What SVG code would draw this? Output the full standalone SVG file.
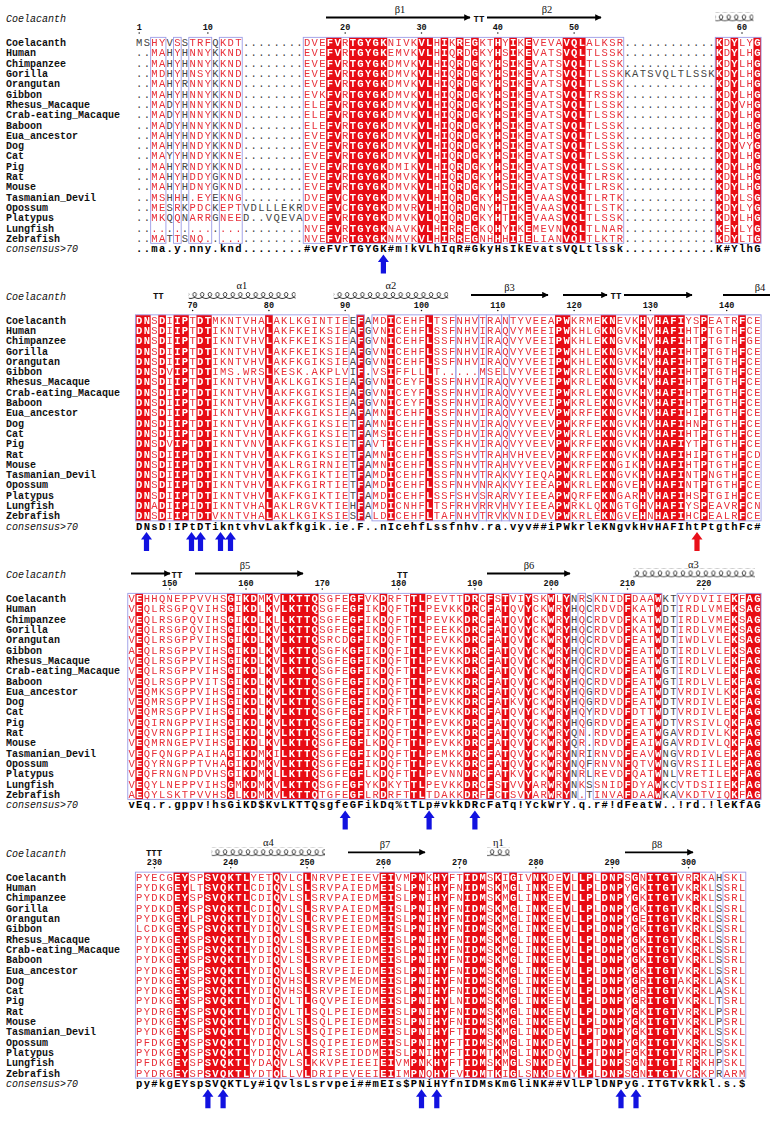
<svg xmlns="http://www.w3.org/2000/svg" width="778" height="1121" viewBox="0 0 778 1121">
<style>
.q{font-family:"Liberation Mono","DejaVu Sans Mono",monospace;font-size:10.5px;letter-spacing:1.33px}
.cs{font-family:"Liberation Mono","DejaVu Sans Mono",monospace;font-size:10.5px;letter-spacing:1.33px;font-weight:bold;fill:#000}
.nm{font-family:"Liberation Mono","DejaVu Sans Mono",monospace;font-size:10px;font-weight:bold;fill:#111}
.it{font-family:"Liberation Mono","DejaVu Sans Mono",monospace;font-size:10px;font-style:italic;fill:#111}
.num{font-family:"Liberation Mono","DejaVu Sans Mono",monospace;font-size:8.5px;font-weight:bold;text-anchor:middle;fill:#111}
.tt{font-family:"Liberation Mono","DejaVu Sans Mono",monospace;font-size:9px;font-weight:bold;text-anchor:middle;fill:#111}
.ss{font-family:"Liberation Serif","DejaVu Serif",serif;font-size:10.5px;text-anchor:middle;fill:#111}
.st{stroke:#000;stroke-width:1.8;fill:none}
.hl{fill:url(#hx)}
.ba{fill:#1212e0}
.ra{fill:#e8101a}
.dt{fill:#111}
</style>
<defs>
<marker id="ah" viewBox="0 0 10 10" refX="9" refY="5" markerWidth="4.5" markerHeight="3.6" orient="auto" markerUnits="strokeWidth"><path d="M0,0L10,5L0,10z" fill="#000"/></marker>
<pattern id="hx" patternUnits="userSpaceOnUse" x="0" y="-30" width="7.63" height="9"><path d="M0,8.5C2,8.5 5.6,7 5.6,4.6C5.6,1.8 2.1,1.8 2.1,4.6C2.1,7 5.6,8.5 7.63,8.5" fill="none" stroke="#000" stroke-width="0.8"/></pattern>
<path id="up" d="M0,0L5.5,7.5L2.6,7.5L2.6,19L-2.6,19L-2.6,7.5L-5.5,7.5Z"/>
<g id="names">
<text class="it" x="6" y="-20.5">Coelacanth</text>
<text class="nm" x="6" y="3.6">Coelacanth</text>
<text class="nm" x="6" y="13.9">Human</text>
<text class="nm" x="6" y="24.2">Chimpanzee</text>
<text class="nm" x="6" y="34.5">Gorilla</text>
<text class="nm" x="6" y="44.8">Orangutan</text>
<text class="nm" x="6" y="55.1">Gibbon</text>
<text class="nm" x="6" y="65.4">Rhesus_Macaque</text>
<text class="nm" x="6" y="75.7">Crab-eating_Macaque</text>
<text class="nm" x="6" y="86">Baboon</text>
<text class="nm" x="6" y="96.3">Eua_ancestor</text>
<text class="nm" x="6" y="106.6">Dog</text>
<text class="nm" x="6" y="116.9">Cat</text>
<text class="nm" x="6" y="127.2">Pig</text>
<text class="nm" x="6" y="137.5">Rat</text>
<text class="nm" x="6" y="147.8">Mouse</text>
<text class="nm" x="6" y="158.1">Tasmanian_Devil</text>
<text class="nm" x="6" y="168.4">Opossum</text>
<text class="nm" x="6" y="178.7">Platypus</text>
<text class="nm" x="6" y="189">Lungfish</text>
<text class="nm" x="6" y="199.3">Zebrafish</text>
<text class="it" x="6" y="209.6">consensus&gt;70</text>
</g>

<g id="t1" class="q">
<text x="136.05" y="3.6">MSHYVSSTRFQKDT........DVEFVRTGYGKNIVKVLHIKREGKTHYIKEVEVAVQLALKSR............KDYLYG</text>
<text x="136.05" y="13.9">..MAHYHNNYKKND........EVEFVRTGYGKEMVKVLHIQRDGKYHSIKEVATSVQLTLSSK............KDYLHG</text>
<text x="136.05" y="24.2">..MAHYHNNYKKND........EVEFVRTGYGKDMVKVLHIQRDGKYHSIKEVATSVQLTLSSK............KDYLHG</text>
<text x="136.05" y="34.5">..MDHYHNSYKKND........EVEFVRTGYGKDMVKVLHIQRDGKYHSIKEVATSVQLTLSSKKATSVQLTLSSKKDYLHG</text>
<text x="136.05" y="44.8">..MAHYRNNYKKND........EVEFVRTGYGKDMVKVLHIQRDGKYHSIKEVATSVQLTLSSK............KDYLHG</text>
<text x="136.05" y="55.1">..MAHYHNNYKKND........EVKFVRTGYGKDMVKVLHIQRDGKYHSIKEVATSVQLTRSSK............KDYLHG</text>
<text x="136.05" y="65.4">..MADYHNNYKKND........ELEFVRTGYGKDMVKVLHIQRDGKYHSIKEVATSVQLTLSSK............KDYVHG</text>
<text x="136.05" y="75.7">..MADYHNNYKKND........ELEFVRTGYGKDMVKVLHIQRDGKYHSIKEVATSVQLTLSSK............KDYLHG</text>
<text x="136.05" y="86">..MADYHNNYKKND........ELEFVRTGYGKDMVKVLHIQRDGKYHSIKEVATSVQLTLSSK............KDYLHG</text>
<text x="136.05" y="96.3">..MAHYHNDYKKND........EVEFVRTGYGKDMVKVLHIQRDGKYHSIKEVATSVQLTLSSK............KDYLHG</text>
<text x="136.05" y="106.6">..MAHYHNDYKKND........EVEFVRTGYGKDMVKVLHIQRDGKYHSIKEVATSVQLTLSSK............KDYVYG</text>
<text x="136.05" y="116.9">..MAYYHNDYKKNE........EVEFVRTGYGKDMVKVLHIQRDGKYHSIKEVATSVQLTLSSK............KDYLHG</text>
<text x="136.05" y="127.2">..MAHYRNDYKKND........EVEFVRTGYGKDMIKVLHIQRDGKYHSIKEVATSVQLTLSSK............KDYLHG</text>
<text x="136.05" y="137.5">..MAHYHDDYGKND........EVEFVRTGYGKDMVKVLHIQRDGKYHSIKEVATSVQLTLRSK............KDYLHG</text>
<text x="136.05" y="147.8">..MAHYHDNYGKND........EVEFVRTGYGKDMVKVLHIQRDGKYHSIKEVATSVQLTLRSK............KDYLHG</text>
<text x="136.05" y="158.1">..MSHHH.EYEKNG........DVEFVCTGYGKDMVKVLHIQRDGKYHSIKEVAASVQLTLRTK............KDYLSG</text>
<text x="136.05" y="168.4">..MESRKPDCKEPTVDLLLEKRDVEFVCTGYGKDMVRVLHIQRDGNYHTIKEVAASVQLTLSTK............KDYLYG</text>
<text x="136.05" y="178.7">..MKQQNARRGNEED..VQEVADVEFVRTGYGKDMVKVLQIQRDGKYHTIKEVAASVQLTLSSK............KDYLHG</text>
<text x="136.05" y="189">......................NVEFVRTGYGKNAVKVLHIRREGKQHYIKEMEVNVQLTLNAR............KEYLYG</text>
<text x="136.05" y="199.3">..MATTSNQ.............NVEFVRTGYGKNMVKVLHIRREGNHHHIIELIANVQLTLKTR............KDYLTG</text>
</g>
<g id="s1">
<rect x="326.15" y="-5.15" width="15.26" height="206"/><rect x="349.04" y="-5.15" width="38.15" height="206"/><rect x="417.71" y="-5.15" width="15.26" height="206"/><rect x="440.6" y="-5.15" width="7.63" height="206"/><rect x="455.86" y="-5.15" width="7.63" height="206"/><rect x="471.12" y="-5.15" width="7.63" height="206"/><rect x="494.01" y="-5.15" width="7.63" height="206"/><rect x="509.27" y="-5.15" width="7.63" height="206"/><rect x="524.53" y="-5.15" width="7.63" height="206"/><rect x="562.68" y="-5.15" width="22.89" height="206"/><rect x="715.28" y="-5.15" width="7.63" height="206"/><rect x="730.54" y="-5.15" width="7.63" height="206"/><rect x="753.43" y="-5.15" width="7.63" height="206"/>
</g>
<g id="f1">
<rect x="150.66" y="-5.15" width="15.26" height="206"/><rect x="173.55" y="-5.15" width="7.63" height="206"/><rect x="188.81" y="-5.15" width="22.89" height="206"/><rect x="219.33" y="-5.15" width="22.89" height="206"/><rect x="303.26" y="-5.15" width="320.46" height="206"/><rect x="715.28" y="-5.15" width="45.78" height="206"/>
</g>
<mask id="m1s" maskUnits="userSpaceOnUse" x="0" y="-20" width="800" height="240"><use href="#s1" fill="#fff"/></mask>
<mask id="m1f" maskUnits="userSpaceOnUse" x="0" y="-20" width="800" height="240"><use href="#f1" fill="#fff"/></mask>

<g id="t2" class="q">
<text x="136.05" y="3.6">DNSDIIPTDTMKNTVHALAKLKGINTIEEFAMDICEHFLTSFNHVTRANTYVEEAPWKRMEKNEVKHVHAFIYSPEATRFCE</text>
<text x="136.05" y="13.9">DNSDIIPTDTIKNTVHVLAKFKEIKSIEAFGVNICEHFLSSFNHVIRAQVYMEEIPWKHLGKNGVKHVHAFIHTPTGTHFCE</text>
<text x="136.05" y="24.2">DNSDIIPTDTIKNTVHVLAKFKEIKSIEAFGVNICEHFLSSFNHVIRAQVYVEEIPWKHLEKNGVKHVHAFIHTPTGTHFGE</text>
<text x="136.05" y="34.5">DNSDIIPTDTIKNTVHVLAKFKEIKSIEAFGVNICEHFLSSFNHVIRAQVYVEEIPWKHLEKNGVKHVHAFIHTPTGTHFCE</text>
<text x="136.05" y="44.8">DNSDIIPTDTIKNTVHVLAKFKGIKSIEAFGVNICEHFLSSFNHVIRAQVYVEEIPWKHLEKNGVKHVHAFIHTPTGTHFCE</text>
<text x="136.05" y="55.1">DNSDVIPTDTIMS.WRSLKESK.AKPLVIF.VSIFFLLLT.....MSELVYVEEIPWKRLEKNGVKHVHAFIHTPTGTHFCE</text>
<text x="136.05" y="65.4">DNSDIIPTDTIKNTVHVLAKLKGIKSIEAFGVNICEYFLSSFNHVIRAQVYVEEIPWKRLEKNGVKHVHAFIHTPTGTHFCE</text>
<text x="136.05" y="75.7">DNSDIIPTDTIKNTVHVLAKFKGIKSIEAFGVNICEYFLSSFNHVIRAQVYVEEIPWKRLEKNGVKHVHAFIHTPTGTHFCE</text>
<text x="136.05" y="86">DNSDIIPTDTIKNTVHVLAKFKGIKSIEAFGVNICEYFLSSFNHVIRAQVYVEEIPWKRLEKNGVKHVHAFIHTPTGTHFCE</text>
<text x="136.05" y="96.3">DNSDIIPTDTIKNTVHVLAKFKGIKSIEAFAMNICEHFLSSFNHVIRAQVYVEEVPWKRFEKNGVKHVHAFIHIPTGTHFCE</text>
<text x="136.05" y="106.6">DNSDIIPTDTIKNTVHVLAKFKGIKSIETFAMNICEHFLSSFNHVIRAQVYVEEVPWKRFEKNGVKHVHAFIHNPTGTHFCE</text>
<text x="136.05" y="116.9">DNSDIIPTDTIKNTVHVLAKFKGIKSIETFAMSICEHFLSSFDHVIRAQVYVEEVPWKRLEKNGVKHVHAFIHTPTGTHFCE</text>
<text x="136.05" y="127.2">DNSDVIPTDTIKNTVNVLAKFKGIKSIETFAVTICEHFLSSFKHVIRAQVYVEEVPWKRFEKNGVKHVHAFIYTPTGTHFCE</text>
<text x="136.05" y="137.5">DNSDIIPTDTIKNTVHVLAKFKGIKSIETFAMNICEHFLSSFSHVTRAHVHVEEVPWKRFEKNGVKHVHAFIHIPTGTHFCD</text>
<text x="136.05" y="147.8">DNSDIIPTDTIKNTVHVLAKLRGIRNIETFAMNICEHFLSSFNHVTRAHVYVEEVPWKRFEKNGIKHVHAFIHTPTGTHFCE</text>
<text x="136.05" y="158.1">DNSDIIPTDTIKNTVHVLAKFKGIKTIETFAMDICEHFLSSFNHVTRAKVYIEQAPWKRLEKNGVKHVHAFINTPNGTHFCE</text>
<text x="136.05" y="168.4">DNSDIIPTDTIKNTVHVLAKFKGIRTIETFAMDICEHFLSSFNHVNRAKVYIEEAPWKRLEKNGVEHVHAFINTPTGTHFCE</text>
<text x="136.05" y="178.7">DNSDIIPTDTIKNTVHVLAKFKGIKTIETFAMDICEHFLSSFSHVSRARVYIEEAPWQRFEKNGARHVHAFIHSPTGIHFCE</text>
<text x="136.05" y="189">DNADIIPIDTIKNTVHALAKLRGVKTIEHFAMDICNHFLTSFRHVRRVHVYIEEAPWRKLQKNGTGHVHAFIYSPEAVRFCN</text>
<text x="136.05" y="199.3">DNSDIIPTDTVKNTVHALAKLKGIKSIESFALDICEHFLTAFNHVTRVKVNIDEVPWKRLEKNGVEHNHAFIHCPEALRFCE</text>
</g>
<g id="s2">
<rect x="135.4" y="-5.15" width="15.26" height="206"/><rect x="158.29" y="-5.15" width="7.63" height="206"/><rect x="173.55" y="-5.15" width="15.26" height="206"/><rect x="196.44" y="-5.15" width="15.26" height="206"/><rect x="265.11" y="-5.15" width="7.63" height="206"/><rect x="356.67" y="-5.15" width="7.63" height="206"/><rect x="387.19" y="-5.15" width="7.63" height="206"/><rect x="425.34" y="-5.15" width="7.63" height="206"/><rect x="555.05" y="-5.15" width="15.26" height="206"/><rect x="600.83" y="-5.15" width="15.26" height="206"/><rect x="638.98" y="-5.15" width="7.63" height="206"/><rect x="654.24" y="-5.15" width="30.52" height="206"/><rect x="700.02" y="-5.15" width="7.63" height="206"/><rect x="738.17" y="-5.15" width="7.63" height="206"/>
</g>
<g id="f2">
<rect x="135.4" y="-5.15" width="213.64" height="206"/><rect x="356.67" y="-5.15" width="7.63" height="206"/><rect x="371.93" y="-5.15" width="83.93" height="206"/><rect x="455.86" y="-5.15" width="22.89" height="206"/><rect x="478.75" y="-5.15" width="7.63" height="206"/><rect x="486.38" y="-5.15" width="15.26" height="206"/><rect x="501.64" y="-5.15" width="7.63" height="206"/><rect x="509.27" y="-5.15" width="251.79" height="206"/>
</g>
<mask id="m2s" maskUnits="userSpaceOnUse" x="0" y="-20" width="800" height="240"><use href="#s2" fill="#fff"/></mask>
<mask id="m2f" maskUnits="userSpaceOnUse" x="0" y="-20" width="800" height="240"><use href="#f2" fill="#fff"/></mask>

<g id="t3" class="q">
<text x="136.05" y="3.6">VEHHQNEPPVVHSGIKDMKVLKTTQSGFEGFVKDRFTTLPEVTTDRCFSTVIYSKWLYNRSKNIDFDAAWKTVYDVIIEKFAG</text>
<text x="136.05" y="13.9">VEQLRSGPQVIHSGIKDLKVLKTTQSGFEGFIKDQFTTLPEVKKDRCFATQVYCKWRYHQCRDVDFKATWDTIRDLVMEKSAG</text>
<text x="136.05" y="24.2">VEQLRSGPQVIHSGIKDLKLLKTTQSGFEGFIKDQFTTLPEVKKDRCFATQVYCKWRYHQCRDVDFKATWDTIRDLVMEKSAG</text>
<text x="136.05" y="34.5">VEQLRSGPQVIHSGIKDLKVLKTTQSGFEGFIKDQFTTLPEEKKDRCFATQVYCKWRYHQCRDVDFKATWDTIRDLVMEKSAG</text>
<text x="136.05" y="44.8">VEQLRSGPPVIHSGIKDLKVLKTTQSRCDGFIKDQFTTLPEVKKDRCFATQVYCKWRYHQCRDVDFEATWDTIWDLVLEKSAG</text>
<text x="136.05" y="55.1">AEQLRSGPPVIHSGIKDLKVLKTTQSGFKGFIKDQFITLPEVKKDRCFATQVYCKWRYHQCRDVDFEATWDTIRDLVLEKSAG</text>
<text x="136.05" y="65.4">VEQLRSGPPVIHSGIKDLKVLKTTQSGFEGFIKDQFTTLPEVKKDRCFATQVYCKWRYHQCRDVDFEATWGTIRDLVLEKFAG</text>
<text x="136.05" y="75.7">VEQLRSGPPVIHSGIKDLKVLKTTQSGFEGFIKDQFTTLPEVKKDRCFATQVYCKWRYHQCRDVDFEATWGTIRDLVLEKFAG</text>
<text x="136.05" y="86">VEQLRSGPPVITSGIKDLKVLKTTQSGFEGFIKDQFTTLPEVKKDRCFATQVYCKWRYHQCRDVDFEATWGTIRDLVLEKFAG</text>
<text x="136.05" y="96.3">VEQMKSGPPVIHSGIKDLKVLKTTQSGFEGFIKDQFTTLPEVKKDRCFATQVYCKWRYHQGRDVDFEATWDTVRDIVLKKFAG</text>
<text x="136.05" y="106.6">VEQMRSGPPVIHSGIKDLKVLKTTQSGFEGFIKDQFTTLPEVKKDRCFATKVYCKWRYHQGRDVDFEATWDTVRDIVLEKFAG</text>
<text x="136.05" y="116.9">VEQMRSGPPVIHSGIKDLKVLKTTQSGFEGFIKDRFTTLPEVKKDRCFATQVYCKWRYHQYRDVDFDTTWDTVRDIVLEKFAG</text>
<text x="136.05" y="127.2">VEQIRNGPPVIHSGIKDLKVLKTTQSGFEGFIKDQFTTLPEVKKDRCFATQVYCKWRYHQGRDVDFEATWDTVRSIVLQKFAG</text>
<text x="136.05" y="137.5">VEQVRNGPPIIHSGIKDLKVLKTTQSGFEGFIKDQFTTLPEVKKDRCFATQVYCKWRYQN.RDVDFEATWGAVRDIVLKKFAG</text>
<text x="136.05" y="147.8">VEQMRNGEPVIHSGIKDLKVLKTTQSGFEGFLKDQFTTLPEVKKDRCFATQVYCKWRYQR.RDVDFEAIWGAVRDIVLQKFAG</text>
<text x="136.05" y="158.1">VEQFQNGPPAIHAGIKDMKILKTTQSGFEGFIKDQFTTLPEMKKDRCFATQVYCKWRYNRIRNVDFEAVWNGVRDIVLEKFAG</text>
<text x="136.05" y="168.4">VEQYRNGPPTVHAGIKDMKVLKTTQSGFEGFIKDQFTTLPEVKKDRCFATQVYCKWRYNQFRNVNFQTVWNGVRSIILEKFAG</text>
<text x="136.05" y="178.7">VEQFRNGNPDVHSGIKDMKLLKTTQSGFEGFLKDQFTTLPEVNNDRCFATKVYCKWRYNRLREVDFQATWNLVRETILEKFAG</text>
<text x="136.05" y="189">VEQYLNEPPVIHSGMKDMKVLKTTQSGFEGFYKDKYTTLPEVKKDRCFSTVVYARWRYNKSSNIDFDYAWKCVTDSIIEKFAG</text>
<text x="136.05" y="199.3">AEQYLSKTPVVHSGLKDMKVLKTTQTGFEGFLRDRFTTLTDAKKDRFFCTSVYARWRYN.TINVAFDAAWKAVKDTVIQKFAG</text>
</g>
<g id="s3">
<rect x="143.03" y="-5.15" width="7.63" height="206"/><rect x="234.59" y="-5.15" width="7.63" height="206"/><rect x="249.85" y="-5.15" width="15.26" height="206"/><rect x="272.74" y="-5.15" width="7.63" height="206"/><rect x="288" y="-5.15" width="38.15" height="206"/><rect x="356.67" y="-5.15" width="15.26" height="206"/><rect x="387.19" y="-5.15" width="7.63" height="206"/><rect x="417.71" y="-5.15" width="15.26" height="206"/><rect x="471.12" y="-5.15" width="15.26" height="206"/><rect x="494.01" y="-5.15" width="7.63" height="206"/><rect x="509.27" y="-5.15" width="7.63" height="206"/><rect x="532.16" y="-5.15" width="7.63" height="206"/><rect x="555.05" y="-5.15" width="7.63" height="206"/><rect x="570.31" y="-5.15" width="7.63" height="206"/><rect x="631.35" y="-5.15" width="7.63" height="206"/><rect x="661.87" y="-5.15" width="7.63" height="206"/><rect x="738.17" y="-5.15" width="7.63" height="206"/><rect x="753.43" y="-5.15" width="15.26" height="206"/>
</g>
<g id="f3">
<rect x="135.4" y="-5.15" width="442.54" height="206"/><rect x="585.57" y="-5.15" width="7.63" height="206"/><rect x="600.83" y="-5.15" width="68.67" height="206"/><rect x="684.76" y="-5.15" width="83.93" height="206"/>
</g>
<mask id="m3s" maskUnits="userSpaceOnUse" x="0" y="-20" width="800" height="240"><use href="#s3" fill="#fff"/></mask>
<mask id="m3f" maskUnits="userSpaceOnUse" x="0" y="-20" width="800" height="240"><use href="#f3" fill="#fff"/></mask>

<g id="t4" class="q">
<text x="136.05" y="3.6">PYECGEYSPSVQKTLYETQVLCLNRVPEIEEVEIVMPNKHYFTIDMSKIGIVNKDEVLLPLDNPSGNITGTVRRKAHSKL</text>
<text x="136.05" y="13.9">PYDKGEYLTSVQKTLCDIQVLSLSRVPAIEDMEISLPNIHYFNIDMSKMGLINKEEVLLPLDNPYGKITGTVKRKLSSRL</text>
<text x="136.05" y="24.2">PYDKDEYSPSVQKTLCDIQVLSLSRVPAIEDMEISLPNIHYFNIDMSKMGLINKEEVLLPLDNPYGKITGTVKRKLSSRL</text>
<text x="136.05" y="34.5">PYDKDEYSPSVQKTLCDIQVLSLSRVPAIEDMEISLPNIHYFNIDMSKMGLINKEEVLLPLDNPYGKITGTVKRKLSSRL</text>
<text x="136.05" y="44.8">PYDKGEYLPSVQKTLYDIQVLSLCRVPEIEDMEISLPNIHYFNIDMSKMGLINKEEVLLPLDNPYGEITGTVKRKLSSRL</text>
<text x="136.05" y="55.1">LCDKGEYSPSVQKTLYDIQVLSLSRVPEIEDMEISLPNIHYFNIDMSKMGLINKEEVLLPLDNPYGKITGTVKRKLSSRL</text>
<text x="136.05" y="65.4">PYDKGEYSPSVQKTLYDIQVLSLSRVPEIEDMEISLPNIHYFNIDMSKMGLINKEEVLLPLDNPYGKITGTVKRKLSSRL</text>
<text x="136.05" y="75.7">PYDKGEYSPSVQKTLYDIQVLSLSRVPEIEDMEISLPNIHYFNIDMSKMGLINKEEVLLPLDNPYGKITGTVKRKLSSRL</text>
<text x="136.05" y="86">PYDKGEYSPSVQKTLYDIQVLSLSRVPEIEDMEISLPNIHYFNIDMSKMGLINKEEVLLPLDNPYGKITGTVKRKLSSRL</text>
<text x="136.05" y="96.3">PYDKGEYSPSVQKTLYDIQVLSLSRVPEIEDMEISLPNIHYFNIDMSKMGLINKEEVLLPLDNPYGKITGTVKRKLSSRL</text>
<text x="136.05" y="106.6">PYDKGEYSPSVQKTLYDIQVHSLSRVPEMEDMEISLPNIHYFNIDMSKMGLINKEEVLLPLDNPYGRITGTAKRKLASKL</text>
<text x="136.05" y="116.9">PYDKGEYSPSVQKTLYDIQVHSLSRVPEIEDMEISLPNIHYFNIDMSKMGLINKEEVLLPLDNPYGRITGTVKRKLASKL</text>
<text x="136.05" y="127.2">PYDKGEYSPSVQKTLYDIQVLTLGQVPEIEDMEISLPNIHYLNIDMSKMGLINKEEVLLPLDNPYGRITGTVKRKLTSRL</text>
<text x="136.05" y="137.5">PYDRGEYSPSVQKTLYDIQVLTLSQLPEIEDMEISLPNIHYFNIDMSKMGLINKEEVLLPLDNPYGKITGTVRRKLPSRL</text>
<text x="136.05" y="147.8">PYDKGEYSPSVQKTLYDIQVLSLSQLPEIEDMEISLPNIHYFNIDMSKMGLINKEEVLLPLDNPYGKITGTVKRKLPSRL</text>
<text x="136.05" y="158.1">PYDKGEYSPSVQKTLYDIQVLSLSQIPEIEDMEISLPNIHYFTIDMSKMGLINKDEVLLPTDNPYGKITGTVKRKLSSKL</text>
<text x="136.05" y="168.4">PFDKGEYSPSVQKTLYDIQVLSLSQIPEIEDMEISLPNIHYFTIDMSKMGLINKDEVLLPTDNPYGKITGTVKRKLSSKL</text>
<text x="136.05" y="178.7">PYDKGEYSPSVQKTLYDIQVLALSRISEIDDMEISLPNIHYFTIDMTKMGLINKDQVLLPTDNPFGKITGTVRRRLPSKL</text>
<text x="136.05" y="189">PFDKGEYSPSVQKTLYDAQVLSLKKVPEIEEIEIVMPNKHYFTIDMSKMGLSNKDEVLLPLDNPSGNITGTIRRKHPSKL</text>
<text x="136.05" y="199.3">PYDRGEYSPSVQKTLYDTQLLVLDRIPEVEEIEIIMPNQHYFVIDMTKIGLSNKDEVYLPLDNPSGNITGTVCRKPRARM</text>
</g>
<g id="s4">
<rect x="173.55" y="-5.15" width="15.26" height="206"/><rect x="204.07" y="-5.15" width="45.78" height="206"/><rect x="272.74" y="-5.15" width="7.63" height="206"/><rect x="303.26" y="-5.15" width="7.63" height="206"/><rect x="379.56" y="-5.15" width="15.26" height="206"/><rect x="410.08" y="-5.15" width="15.26" height="206"/><rect x="432.97" y="-5.15" width="15.26" height="206"/><rect x="463.49" y="-5.15" width="22.89" height="206"/><rect x="494.01" y="-5.15" width="7.63" height="206"/><rect x="509.27" y="-5.15" width="7.63" height="206"/><rect x="532.16" y="-5.15" width="15.26" height="206"/><rect x="562.68" y="-5.15" width="7.63" height="206"/><rect x="577.94" y="-5.15" width="15.26" height="206"/><rect x="600.83" y="-5.15" width="22.89" height="206"/><rect x="631.35" y="-5.15" width="7.63" height="206"/><rect x="646.61" y="-5.15" width="30.52" height="206"/><rect x="692.39" y="-5.15" width="7.63" height="206"/>
</g>
<g id="f4">
<rect x="135.4" y="-5.15" width="579.88" height="206"/><rect x="722.91" y="-5.15" width="22.89" height="206"/>
</g>
<mask id="m4s" maskUnits="userSpaceOnUse" x="0" y="-20" width="800" height="240"><use href="#s4" fill="#fff"/></mask>
<mask id="m4f" maskUnits="userSpaceOnUse" x="0" y="-20" width="800" height="240"><use href="#f4" fill="#fff"/></mask>
</defs>

<rect width="778" height="1121" fill="#fff"/>

<!-- BLOCK 1 -->
<g id="block1" transform="translate(0,42.5)">
<use href="#names"/>
<g id="ss1">
<line class="st" x1="326" y1="-25" x2="470" y2="-25" marker-end="url(#ah)"/>
<text class="ss" x="400" y="-29.5">β1</text>
<text class="tt" x="479" y="-21">TT</text>
<line class="st" x1="487" y1="-25" x2="601" y2="-25" marker-end="url(#ah)"/>
<text class="ss" x="547" y="-29.5">β2</text>
<rect class="hl" x="715.3" y="-30" width="38.2" height="9"/>
</g>
<g id="num1">
<text class="num" x="139.2" y="-12.3">1</text><circle class="dt" cx="139.2" cy="-9.6" r="0.75"/>
<text class="num" x="207.87" y="-12.3">10</text><circle class="dt" cx="207.87" cy="-9.6" r="0.75"/>
<text class="num" x="345.21" y="-12.3">20</text><circle class="dt" cx="345.21" cy="-9.6" r="0.75"/>
<text class="num" x="421.51" y="-12.3">30</text><circle class="dt" cx="421.51" cy="-9.6" r="0.75"/>
<text class="num" x="497.81" y="-12.3">40</text><circle class="dt" cx="497.81" cy="-9.6" r="0.75"/>
<text class="num" x="574.11" y="-12.3">50</text><circle class="dt" cx="574.11" cy="-9.6" r="0.75"/>
<text class="num" x="741.97" y="-12.3">60</text><circle class="dt" cx="741.97" cy="-9.6" r="0.75"/>
</g>
<g id="aln1">
<use href="#t1" fill="#444"/>
<use href="#f1" fill="#fff"/>
<use href="#t1" fill="#e8303a" mask="url(#m1f)"/>
<use href="#s1" fill="#e80c14"/>
<use href="#t1" fill="#fff" font-weight="bold" mask="url(#m1s)"/>
<use href="#f1" fill="none" stroke="#9b9be6" stroke-width="0.9"/>
<text class="cs" x="136.05" y="209.6">..ma.y.nny.knd........#veFVrTGYGK#m!kVLhIqR#GkyHsIkEvatsVQLtlssk............K#YlhG</text>
</g>
<g id="arr1"><use href="#up" x="383.4" y="212" class="ba"/></g>
</g>

<!-- BLOCK 2 -->
<g id="block2" transform="translate(0,320)">
<use href="#names"/>
<g id="ss2">
<text class="tt" x="158.3" y="-21">TT</text>
<rect class="hl" x="188.8" y="-30" width="106.8" height="9"/>
<text class="ss" x="242" y="-31">α1</text>
<rect class="hl" x="333.8" y="-30" width="114.4" height="9"/>
<text class="ss" x="391" y="-31">α2</text>
<line class="st" x1="471" y1="-25" x2="548" y2="-25" marker-end="url(#ah)"/>
<text class="ss" x="509.5" y="-29.5">β3</text>
<line class="st" x1="563" y1="-25" x2="607" y2="-25" marker-end="url(#ah)"/>
<text class="tt" x="616" y="-21">TT</text>
<line class="st" x1="624" y1="-25" x2="692" y2="-25" marker-end="url(#ah)"/>
<line class="st" x1="723" y1="-25" x2="770" y2="-25"/>
<text class="ss" x="760" y="-29.5">β4</text>
</g>
<g id="num2">
<text class="num" x="192.61" y="-12.3">70</text><circle class="dt" cx="192.61" cy="-9.6" r="0.75"/>
<text class="num" x="268.91" y="-12.3">80</text><circle class="dt" cx="268.91" cy="-9.6" r="0.75"/>
<text class="num" x="345.21" y="-12.3">90</text><circle class="dt" cx="345.21" cy="-9.6" r="0.75"/>
<text class="num" x="421.51" y="-12.3">100</text><circle class="dt" cx="421.51" cy="-9.6" r="0.75"/>
<text class="num" x="497.81" y="-12.3">110</text><circle class="dt" cx="497.81" cy="-9.6" r="0.75"/>
<text class="num" x="574.11" y="-12.3">120</text><circle class="dt" cx="574.11" cy="-9.6" r="0.75"/>
<text class="num" x="650.41" y="-12.3">130</text><circle class="dt" cx="650.41" cy="-9.6" r="0.75"/>
<text class="num" x="726.71" y="-12.3">140</text><circle class="dt" cx="726.71" cy="-9.6" r="0.75"/>
</g>
<g id="aln2">
<use href="#t2" fill="#444"/>
<use href="#f2" fill="#fff"/>
<use href="#t2" fill="#e8303a" mask="url(#m2f)"/>
<use href="#s2" fill="#e80c14"/>
<use href="#t2" fill="#fff" font-weight="bold" mask="url(#m2s)"/>
<use href="#f2" fill="none" stroke="#9b9be6" stroke-width="0.9"/>
<text class="cs" x="136.05" y="209.6">DNsD!IPtDTikntvhvLakfkgik.ie.F..nIcehfLssfnhv.ra.vyv##iPWkrleKNgvkHvHAFIhtPtgthFc#</text>
</g>
<g id="arr2">
<use href="#up" x="146.5" y="212" class="ba"/>
<use href="#up" x="191.5" y="212" class="ba"/>
<use href="#up" x="200.5" y="212" class="ba"/>
<use href="#up" x="220.5" y="212" class="ba"/>
<use href="#up" x="230.5" y="212" class="ba"/>
<use href="#up" x="697" y="212" class="ra"/>
</g>
</g>

<!-- BLOCK 3 -->
<g id="block3" transform="translate(0,598.5)">
<use href="#names"/>
<g id="ss3">
<line class="st" x1="131" y1="-25" x2="170" y2="-25" marker-end="url(#ah)"/>
<text class="tt" x="177" y="-21">TT</text>
<line class="st" x1="195" y1="-25" x2="303" y2="-25" marker-end="url(#ah)"/>
<text class="ss" x="245" y="-29.5">β5</text>
<text class="tt" x="402.5" y="-21">TT</text>
<line class="st" x1="487" y1="-25" x2="570" y2="-25" marker-end="url(#ah)"/>
<text class="ss" x="529" y="-29.5">β6</text>
<rect class="hl" x="633.3" y="-30" width="121.7" height="9"/>
<text class="ss" x="693.3" y="-31">α3</text>
</g>
<g id="num3">
<text class="num" x="169.72" y="-12.3">150</text><circle class="dt" cx="169.72" cy="-9.6" r="0.75"/>
<text class="num" x="246.02" y="-12.3">160</text><circle class="dt" cx="246.02" cy="-9.6" r="0.75"/>
<text class="num" x="322.32" y="-12.3">170</text><circle class="dt" cx="322.32" cy="-9.6" r="0.75"/>
<text class="num" x="398.62" y="-12.3">180</text><circle class="dt" cx="398.62" cy="-9.6" r="0.75"/>
<text class="num" x="474.92" y="-12.3">190</text><circle class="dt" cx="474.92" cy="-9.6" r="0.75"/>
<text class="num" x="551.22" y="-12.3">200</text><circle class="dt" cx="551.22" cy="-9.6" r="0.75"/>
<text class="num" x="627.52" y="-12.3">210</text><circle class="dt" cx="627.52" cy="-9.6" r="0.75"/>
<text class="num" x="703.82" y="-12.3">220</text><circle class="dt" cx="703.82" cy="-9.6" r="0.75"/>
</g>
<g id="aln3" transform="translate(-7.63,0)">
<use href="#t3" fill="#444"/>
<use href="#f3" fill="#fff"/>
<use href="#t3" fill="#e8303a" mask="url(#m3f)"/>
<use href="#s3" fill="#e80c14"/>
<use href="#t3" fill="#fff" font-weight="bold" mask="url(#m3s)"/>
<use href="#f3" fill="none" stroke="#9b9be6" stroke-width="0.9"/>
<text class="cs" x="136.05" y="209.6">vEq.r.gppv!hsGiKD$KvLKTTQsgfeGFikDq%tTLp#vkkDRcFaTq!YckWrY.q.r#!dFeatW..!rd.!leKfAG</text>
</g>
<g id="arr3">
<use href="#up" x="345.2" y="212" class="ba"/>
<use href="#up" x="429.1" y="212" class="ba"/>
<use href="#up" x="474.9" y="212" class="ba"/>
</g>
</g>

<!-- BLOCK 4 -->
<g id="block4" transform="translate(0,877.3)">
<use href="#names"/>
<g id="ss4">
<text class="tt" x="154" y="-21">TTT</text>
<rect class="hl" x="211.7" y="-30" width="113.3" height="9"/>
<text class="ss" x="268.3" y="-31">α4</text>
<line class="st" x1="348" y1="-25" x2="425" y2="-25" marker-end="url(#ah)"/>
<text class="ss" x="385" y="-29.5">β7</text>
<rect class="hl" x="487" y="-30" width="22.9" height="9"/>
<text class="ss" x="498.3" y="-31">η1</text>
<line class="st" x1="625" y1="-25" x2="693" y2="-25" marker-end="url(#ah)"/>
<text class="ss" x="657" y="-29.5">β8</text>
</g>
<g id="num4">
<text class="num" x="154.46" y="-12.3">230</text><circle class="dt" cx="154.46" cy="-9.6" r="0.75"/>
<text class="num" x="230.76" y="-12.3">240</text><circle class="dt" cx="230.76" cy="-9.6" r="0.75"/>
<text class="num" x="307.06" y="-12.3">250</text><circle class="dt" cx="307.06" cy="-9.6" r="0.75"/>
<text class="num" x="383.36" y="-12.3">260</text><circle class="dt" cx="383.36" cy="-9.6" r="0.75"/>
<text class="num" x="459.66" y="-12.3">270</text><circle class="dt" cx="459.66" cy="-9.6" r="0.75"/>
<text class="num" x="535.96" y="-12.3">280</text><circle class="dt" cx="535.96" cy="-9.6" r="0.75"/>
<text class="num" x="612.26" y="-12.3">290</text><circle class="dt" cx="612.26" cy="-9.6" r="0.75"/>
<text class="num" x="688.56" y="-12.3">300</text><circle class="dt" cx="688.56" cy="-9.6" r="0.75"/>
</g>
<g id="aln4">
<use href="#t4" fill="#444"/>
<use href="#f4" fill="#fff"/>
<use href="#t4" fill="#e8303a" mask="url(#m4f)"/>
<use href="#s4" fill="#e80c14"/>
<use href="#t4" fill="#fff" font-weight="bold" mask="url(#m4s)"/>
<use href="#f4" fill="none" stroke="#9b9be6" stroke-width="0.9"/>
<text class="cs" x="136.05" y="209.6">py#kgEYspSVQKTLy#iQvlsLsrvpei##mEIs$PNiHYfnIDMsKmGliNK##VlLPlDNPyG.ITGTvkRkl.s.$</text>
</g>
<g id="arr4">
<use href="#up" x="207.9" y="212" class="ba"/>
<use href="#up" x="223.1" y="212" class="ba"/>
<use href="#up" x="421.5" y="212" class="ba"/>
<use href="#up" x="436.8" y="212" class="ba"/>
<use href="#up" x="621" y="212" class="ba"/>
<use href="#up" x="636" y="212" class="ba"/>
</g>
</g>
</svg>
